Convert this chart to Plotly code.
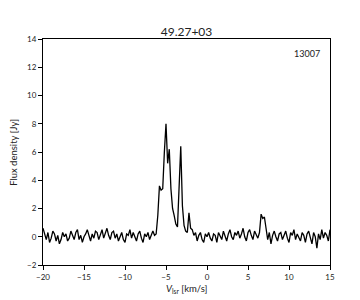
import numpy as np
import plotly.graph_objects as go

title_text = "49.27+03"
label_text = "13007"
x_title = "<i>V</i><sub>lsr</sub> [km/s]"
y_title = "Flux density [Jy]"
v_start, v_end = -20.0, 15.0

flux = [
    0.6, 0.1, -0.2, 0.3, -0.4, -0.1, 0.4, 0.2, -0.3, 0.1,
    -0.5, -0.2, 0.3, 0.0, 0.2, -0.3, -0.1, 0.4, 0.1, -0.2,
    0.3, 0.5, -0.2, 0.1, -0.4, 0.0, 0.2, 0.5, 0.1, -0.3,
    0.2, -0.1, 0.4, 0.3, -0.2, 0.1, 0.5, -0.1, 0.2, 0.6,
    0.1, -0.2, 0.3, 0.4, -0.1, 0.2, -0.3, 0.0, 0.3, -0.2,
    -0.4, 0.2, 0.1, 0.5, -0.1, 0.3, 0.0, -0.3, 0.2, 0.4,
    -0.1, -0.4, 0.2, 0.0, 0.3, -0.2, 0.1, 0.4,
    0.1, 0.2, 1.5, 3.6, 3.3, 3.4, 6.0, 8.0, 5.2, 6.2,
    3.4, 2.0, 1.5, 0.9, 0.7, 4.0, 6.4, 2.2, 0.8, 0.4,
    0.3, 1.7, 0.6, 0.5, 0.1, 0.3,
    -0.3, 0.1, 0.3, -0.2, -0.4, 0.2, 0.0, 0.3, -0.1, -0.3,
    0.2, 0.1, -0.4, 0.3, 0.0, -0.2, 0.4, 0.1, -0.3, 0.2,
    0.5, 0.0, -0.2, 0.3, 0.1, 0.4, -0.1, 0.2, 0.6, 0.0,
    -0.3, 0.3, 0.5, 0.1, -0.2, 0.4, 0.2, -0.1, 0.3,
    1.6, 1.3, 1.4, 0.6, -0.2,
    0.3, -0.5, 0.1, 0.4, 0.0, -0.3, 0.2, 0.3, -0.2, 0.1,
    0.4, -0.1, -0.4, 0.3, 0.1, 0.5, -0.2, 0.2, 0.0, -0.3,
    0.3, 0.1, -0.4, 0.2, 0.4, -0.1, -0.5, 0.3, 0.0, -0.8,
    0.2, -0.2, 0.5, -0.1, 0.3, 0.1, -0.3, 0.5,
]
velocity = np.linspace(v_start, v_end, len(flux))

FONT = "Lato"
TXT = "#222"

fig = go.Figure()
fig.add_trace(go.Scatter(x=velocity, y=flux, mode="lines",
                         line=dict(color="black", width=1.3), showlegend=False))

axis_common = dict(showline=True, linecolor="black", linewidth=1, mirror=True,
                   ticks="outside", ticklen=4, tickcolor="black", showgrid=False,
                   zeroline=False, automargin=False,
                   tickfont=dict(size=8, color=TXT, family=FONT))

fig.update_xaxes(range=[-20, 15], tickvals=[-20, -15, -10, -5, 0, 5, 10, 15], **axis_common)
fig.update_yaxes(range=[-2, 14], tickvals=[-2, 0, 2, 4, 6, 8, 10, 12, 14], **axis_common)

fig.add_annotation(text=label_text, xref="paper", yref="paper", x=0.973, y=0.97,
                   xanchor="right", yanchor="top", showarrow=False,
                   font=dict(size=9, color=TXT, family=FONT))
fig.add_annotation(text=x_title, xref="paper", yref="paper", x=0.5, y=-0.105,
                   xanchor="center", yanchor="middle", showarrow=False,
                   font=dict(size=9.5, color=TXT, family=FONT))
fig.add_annotation(text=y_title, xref="paper", yref="paper", x=-0.105, y=0.5,
                   xanchor="center", yanchor="middle", showarrow=False, textangle=-90,
                   font=dict(size=9.5, color=TXT, family=FONT))

fig.update_layout(
    width=360, height=300,
    margin=dict(l=43, r=30, t=39, b=35, autoexpand=False),
    paper_bgcolor="white", plot_bgcolor="white",
    title=dict(text=title_text, x=0.5, xref="paper", xanchor="center",
               y=1, yref="paper", yanchor="bottom", pad=dict(b=3),
               font=dict(size=12, color=TXT, family=FONT)),
    font=dict(family=FONT),
)

fig.write_html("out.html")
